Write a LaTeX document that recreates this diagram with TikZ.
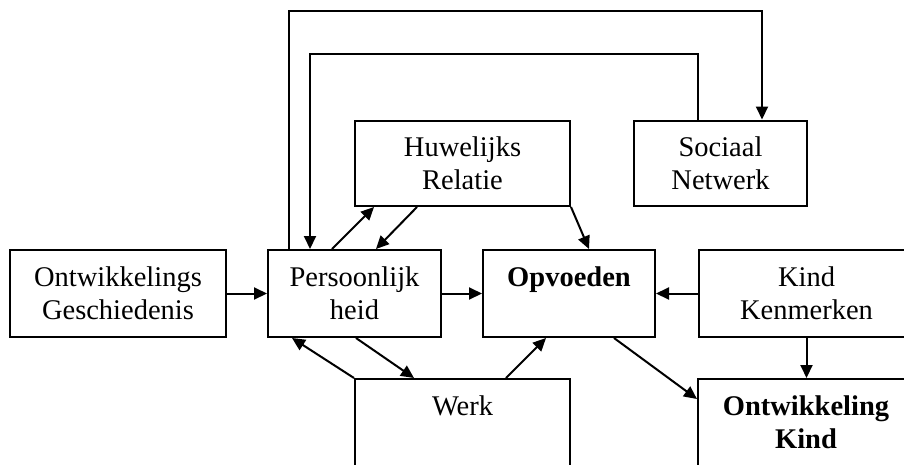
\documentclass[tikz,border=0pt]{standalone}
\usepackage{fontspec}
\setmainfont{Liberation Serif}
\usepackage{tikz}
\usetikzlibrary{arrows.meta}

\begin{document}
\begin{tikzpicture}[x=1pt, y=-1pt, line width=2pt,
    >={Triangle[length=13pt, width=12pt]},
    box/.style={draw, rectangle, inner sep=0pt, align=center,
      minimum height=87pt, font=\fontsize{28.5}{33}\selectfont}]
  \useasboundingbox (0,0) rectangle (904,464);
  \clip (0,0) rectangle (904,464);

  \node[box, minimum width=216pt] (ontw) at (118,293.5) {Ontwikkelings\\Geschiedenis};
  \node[box, minimum width=173pt] (pers) at (354.5,293.5) {Persoonlijk\\heid};
  \node[box, minimum width=172pt] (opv) at (569,293.5) {\textbf{Opvoeden}\\~};
  \node[box, minimum width=215pt] (kind) at (806.5,293.5) {Kind\\Kenmerken};
  \node[box, minimum width=215pt, minimum height=85.5pt] (huw) at (462.5,163.25) {Huwelijks\\Relatie};
  \node[box, minimum width=173pt, minimum height=85.5pt] (soc) at (720.5,163.25) {Sociaal\\Netwerk};
  \node[box, minimum width=215pt] (werk) at (462.5,422.5) {Werk\\~};
  \node[box, minimum width=216pt] (okind) at (806,422.5) {\textbf{Ontwikkeling}\\\textbf{Kind}};

  % terugkoppeling via sociaal netwerk
  \draw[->] ([xshift=22pt]pers.north west) -- ++(0,-238) -| ([xshift=129pt]soc.north west);
  \draw[->] ([xshift=65pt]soc.north west) -- ++(0,-65.5) -| ([xshift=43pt]pers.north west);

  \draw[->] ([xshift=65pt]pers.north west) -- ([xshift=20pt]huw.south west);
  \draw[->] ([xshift=63pt]huw.south west) -- ([xshift=109pt]pers.north west);
  \draw[->] (huw.south east) -- ([xshift=107pt]opv.north west);

  \draw[->] (ontw) -- (pers);
  \draw[->] (pers) -- (opv);
  \draw[->] (kind) -- (opv);
  \draw[->] (kind.south) -- (okind.north -| kind.south);
  \draw[->] ([xshift=132pt]opv.south west) -- ([yshift=-21pt]okind.north west);

  \draw[->] (werk.north west) -- ([xshift=25pt]pers.south west);
  \draw[->] ([xshift=89pt]pers.south west) -- ([xshift=60pt]werk.north west);
  \draw[->] ([xshift=152pt]werk.north west) -- ([xshift=64pt]opv.south west);
\end{tikzpicture}
\end{document}
